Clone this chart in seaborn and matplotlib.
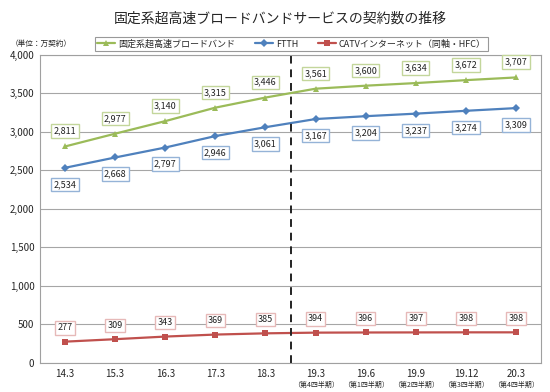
# -*- coding: utf-8 -*-
import numpy as np
import pandas as pd
import matplotlib.pyplot as plt
import seaborn as sns

sns.set_style("white")
plt.rcParams['font.family'] = ['Noto Sans CJK JP', 'DejaVu Sans']

periods = ["14.3", "15.3", "16.3", "17.3", "18.3", "19.3", "19.6", "19.9", "19.12", "20.3"]
quarters = ["", "", "", "", "", "（第4四半期）", "（第1四半期）", "（第2四半期）", "（第3四半期）", "（第4四半期）"]
broadband = [2811, 2977, 3140, 3315, 3446, 3561, 3600, 3634, 3672, 3707]
ftth = [2534, 2668, 2797, 2946, 3061, 3167, 3204, 3237, 3274, 3309]
catv = [277, 309, 343, 369, 385, 394, 396, 397, 398, 398]

names = ["固定系超高速ブロードバンド", "FTTH", "CATVインターネット（同軸・HFC）"]
colors = {names[0]: "#9BBB59", names[1]: "#4F81BD", names[2]: "#C0504D"}
edge = {names[0]: "#C3D69B", names[1]: "#95B3D7", names[2]: "#E6B9B8"}
markers = {names[0]: "^", names[1]: "D", names[2]: "s"}

df = pd.concat([
    pd.DataFrame({"x": np.arange(len(periods)), "value": v, "series": n})
    for n, v in zip(names, [broadband, ftth, catv])
])

fig = plt.figure(figsize=(5.5, 3.92), dpi=100)
ax = fig.add_axes([0.0727, 0.074, 0.911, 0.786])

sns.lineplot(data=df, x="x", y="value", hue="series", style="series",
             palette=colors, markers=markers, dashes=False, linewidth=1.6,
             markersize=4.5, markeredgewidth=0, ax=ax, legend=True)

ax.set_xlim(-0.5, 9.5)
ax.set_ylim(0, 4000)
ax.set_yticks(range(0, 4001, 500))
ax.set_yticklabels([f"{v:,}" for v in range(0, 4001, 500)], fontsize=7)
ax.set_xticks(range(len(periods)))
ax.set_xticklabels(periods, fontsize=7)
ax.set_xlabel("")
ax.set_ylabel("")
ax.yaxis.grid(True, color="#A6A6A6", linewidth=0.8)
for s in ax.spines.values():
    s.set_color("#A0A0A0")
ax.tick_params(axis="both", length=0, pad=4)
ax.set_xticks(np.arange(-0.5, 10, 1), minor=True)
ax.tick_params(axis="x", which="minor", length=3, color="#A0A0A0")

ax.axvline(4.5, color="#222222", linestyle=(0, (4, 3)), linewidth=1.4)

for i, q in enumerate(quarters):
    if q:
        ax.annotate(q, xy=(i, 0), xycoords=("data", "axes fraction"),
                    xytext=(0, -15.5), textcoords="offset points",
                    ha="center", va="center", fontsize=5)

offsets = {names[0]: 11, names[1]: -12, names[2]: 10}
for n, vals in zip(names, [broadband, ftth, catv]):
    for i, v in enumerate(vals):
        ax.annotate(f"{v:,}", xy=(i, v), xytext=(0, offsets[n]),
                    textcoords="offset points", ha="center", va="center",
                    fontsize=6.5, color="#222222",
                    bbox=dict(boxstyle="square,pad=0.25", fc="white",
                              ec=edge[n], lw=1))

handles, labels = ax.get_legend_handles_labels()
ax.get_legend().remove()
leg = fig.legend(handles, labels, loc="center", bbox_to_anchor=(0.53, 0.888),
                 ncol=3, fontsize=6.5, frameon=True, fancybox=False,
                 edgecolor="#808080", handlelength=2.0, columnspacing=2.2,
                 borderpad=0.3, handletextpad=0.3)
leg.get_frame().set_linewidth(0.8)

fig.text(0.51, 0.953, "固定系超高速ブロードバンドサービスの契約数の推移",
         ha="center", va="center", fontsize=10)
fig.text(0.02, 0.887, "（単位：万契約）", ha="left", va="center", fontsize=5.5)

fig.savefig("out.png", dpi=100)
